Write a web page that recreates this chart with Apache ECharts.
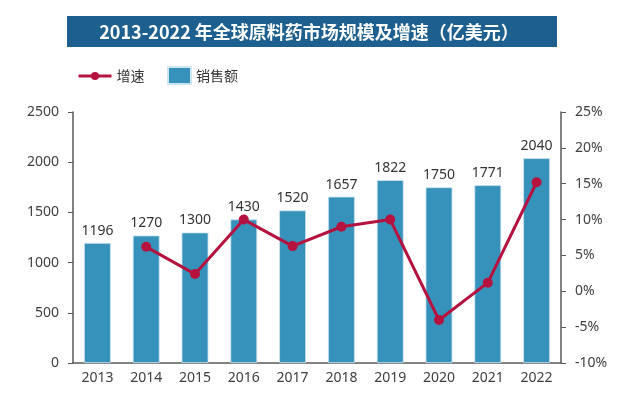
<!DOCTYPE html>
<html style='height: 100%'>
<head>
    <meta charset='utf-8'>
</head>
<body style='height: 100%; margin: 0; background: #fff'>
    <div id='container' style='width: 639px; height: 396px'></div>
    <script type='text/javascript' src='https://cdn.jsdelivr.net/npm/echarts@6/dist/echarts.min.js'></script>
    <script type="text/javascript">
var years = ['2013', '2014', '2015', '2016', '2017', '2018', '2019', '2020', '2021', '2022'];
var sales = [1196, 1270, 1300, 1430, 1520, 1657, 1822, 1750, 1771, 2040];
var growth = [null, 6.2, 2.4, 10.0, 6.3, 9.0, 10.0, -4.0, 1.2, 15.2];
var titleText = '2013-2022 年全球原料药市场规模及增速（亿美元）';

var numFont = '"Noto Sans", sans-serif';
var cjkFont = '"Noto Sans CJK SC", sans-serif';
var barColor = '#3792bb';
var lineColor = '#b5123f';

var dom = document.getElementById("container");
var myChart = echarts.init(dom);
var option = {
    animation: false,
    graphic: [
        {
            type: 'rect',
            shape: {x: 67, y: 16, width: 490, height: 31},
            style: {fill: '#1d5f8e'}
        },
        {
            type: 'text',
            x: 309,
            y: 32,
            style: {
                text: titleText,
                fill: '#fff',
                font: 'bold 18px "Noto Sans CJK SC", sans-serif',
                textAlign: 'center',
                textVerticalAlign: 'middle'
            }
        }
    ],
    legend: [
        {
            data: [{name: '增速', lineStyle: {width: 3}}],
            left: 72,
            top: 64,
            itemWidth: 33,
            itemHeight: 10,
            itemGap: 6,
            textStyle: {fontFamily: cjkFont, fontSize: 14, color: '#333'}
        },
        {
            data: [{name: '销售额', icon: 'rect'}],
            left: 162,
            top: 61,
            itemWidth: 23,
            itemHeight: 17,
            textStyle: {fontFamily: cjkFont, fontSize: 14, color: '#333'}
        }
    ],
    grid: {left: 73, right: 78, top: 112, bottom: 33},
    xAxis: {
        type: 'category',
        data: years,
        axisLine: {lineStyle: {color: '#595959', width: 1.5}},
        axisTick: {show: false},
        axisLabel: {fontFamily: numFont, fontSize: 14, color: '#404040', margin: 8}
    },
    yAxis: [
        {
            type: 'value',
            min: 0,
            max: 2500,
            interval: 500,
            splitLine: {show: false},
            axisLine: {show: true, lineStyle: {color: '#595959', width: 1.5}},
            axisTick: {show: true, length: 5, lineStyle: {color: '#595959'}},
            axisLabel: {fontFamily: numFont, fontSize: 14, color: '#404040', margin: 14,
                formatter: function (v) { return String(v); }}
        },
        {
            type: 'value',
            min: -10,
            max: 25,
            interval: 5,
            splitLine: {show: false},
            axisLine: {show: true, lineStyle: {color: '#595959', width: 1.5}},
            axisTick: {show: true, length: 5, lineStyle: {color: '#595959'}},
            axisLabel: {fontFamily: numFont, fontSize: 14, color: '#404040', margin: 14,
                formatter: '{value}%'}
        }
    ],
    series: [
        {
            name: '销售额',
            type: 'bar',
            data: sales,
            barWidth: '55%',
            itemStyle: {color: barColor, borderColor: '#cfe6f1', borderWidth: 0.8},
            label: {
                show: true,
                position: 'top',
                distance: 5,
                fontFamily: numFont,
                fontSize: 14,
                color: '#333'
            },
            z: 1
        },
        {
            name: '增速',
            type: 'line',
            yAxisIndex: 1,
            data: growth,
            symbol: 'circle',
            symbolSize: 10,
            lineStyle: {color: lineColor, width: 3},
            itemStyle: {color: lineColor},
            z: 3
        }
    ]
};
myChart.setOption(option, true);
    </script>
</body>
</html>
